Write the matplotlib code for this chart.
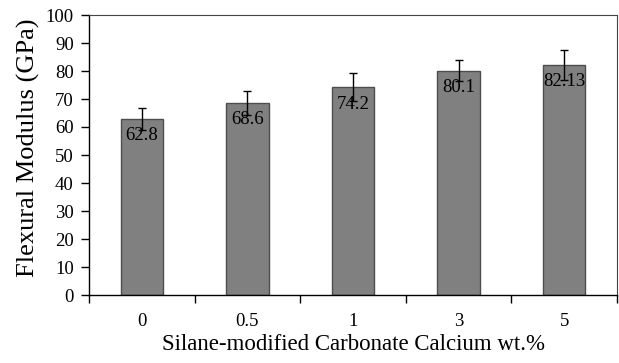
import matplotlib
matplotlib.use("Agg")
import matplotlib.pyplot as plt

# silane-modified CaCO3 loading (wt.%) -> flexural modulus (GPa)
categories = ["0", "0.5", "1", "3", "5"]
modulus = [62.8, 68.6, 74.2, 80.1, 82.13]
errors = [4.0, 4.2, 5.0, 3.7, 5.3]
value_labels = ["62.8", "68.6", "74.2", "80.1", "82.13"]

plt.rcParams["font.family"] = ["Liberation Serif", "DejaVu Serif"]

fig = plt.figure(figsize=(6.19, 3.63), dpi=100)
ax = fig.add_axes([89 / 619, 1 - 295 / 363, (617 - 89) / 619, (295 - 15) / 363])

x = list(range(len(categories)))
ax.bar(x, modulus, width=0.4, color="#808080", edgecolor="#4d4d4d", linewidth=1.0,
       yerr=errors, error_kw=dict(ecolor="black", elinewidth=1.0, capsize=3, capthick=1.0))

for xi, v, lab in zip(x, modulus, value_labels):
    ax.annotate(lab, xy=(xi, v), xytext=(0, -6), textcoords="offset points",
                ha="center", va="top", fontsize=13.5, color="black")

ax.set_xlim(-0.5, 4.5)
ax.set_ylim(0, 100)
ax.set_yticks(range(0, 101, 10))
ax.set_xticks(x)
ax.set_xticklabels(categories, fontsize=13.5)
ax.set_xticks([i + 0.5 for i in range(-1, 5)], minor=True)
ax.tick_params(axis="x", which="major", length=0, pad=13)
ax.tick_params(axis="x", which="minor", length=6, direction="out", width=1.0)
ax.tick_params(axis="y", length=6, direction="out", labelsize=13.5, width=1.0, pad=5)

for side in ["top", "right"]:
    ax.spines[side].set_color("#444444")
    ax.spines[side].set_linewidth(0.8)
for side in ["left", "bottom"]:
    ax.spines[side].set_color("black")
    ax.spines[side].set_linewidth(1.0)

ax.set_ylabel("Flexural Modulus (GPa)", fontsize=19)
ax.yaxis.set_label_coords(-0.093, 0.525)
ax.set_xlabel("Silane-modified Carbonate Calcium wt.%", fontsize=16.5, labelpad=3)

fig.savefig("out.png", dpi=100)
